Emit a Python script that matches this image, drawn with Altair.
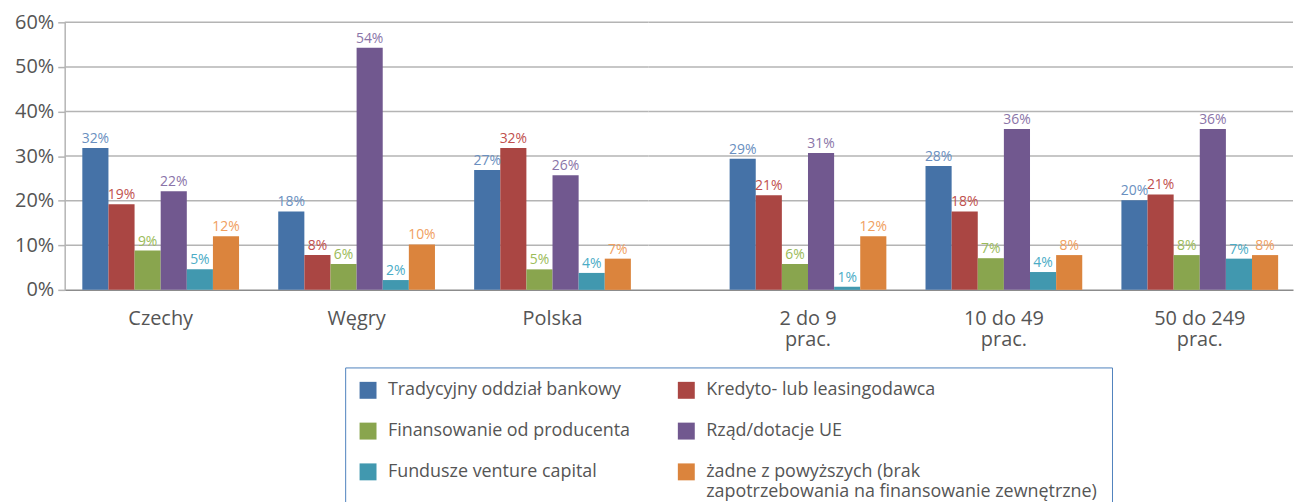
import altair as alt
import pandas as pd

FONT = "Open Sans"

series = [
    "Tradycyjny oddział bankowy",
    "Kredyto- lub leasingodawca",
    "Finansowanie od producenta",
    "Rząd/dotacje UE",
    "Fundusze venture capital",
    "żadne z powyższych (brak zapotrzebowania na finansowanie zewnętrzne)",
]
bar_colors = ["#4572a7", "#aa4643", "#89a54e", "#71588f", "#4198af", "#db843d"]
label_colors = ["#6a8fc0", "#c0504d", "#9bbb59", "#8a74a8", "#4bacc6", "#f0a060"]

groups_left = ["Czechy", "Węgry", "Polska"]
groups_right = ["2 do 9 prac.", "10 do 49 prac.", "50 do 249 prac."]

# values in percent, one list per group (series order as above)
czechy = [31.8, 19.2, 8.8, 22.1, 4.6, 12.0]
wegry = [17.6, 7.8, 5.8, 54.3, 2.2, 10.2]
polska = [26.9, 31.8, 4.6, 25.7, 3.8, 7.0]
m2_9 = [29.4, 21.2, 5.8, 30.7, 0.7, 12.0]
m10_49 = [27.8, 17.6, 7.1, 36.1, 4.0, 7.8]
m50_249 = [20.1, 21.4, 7.8, 36.1, 7.0, 7.8]

y_ticks = [0, 10, 20, 30, 40, 50, 60]


def frame(groups, values):
    rows = []
    for g, vals in zip(groups, values):
        for s, v in zip(series, vals):
            rows.append({"group": g, "series": s, "value": v})
    return pd.DataFrame(rows)


df_left = frame(groups_left, [czechy, wegry, polska])
df_right = frame(groups_right, [m2_9, m10_49, m50_249])
df_grid = pd.DataFrame({"tick": y_ticks[1:]})

legend = alt.Legend(
    orient="none",
    legendX=282,
    legendY=347,
    direction="horizontal",
    columns=2,
    title=None,
    symbolType="square",
    symbolSize=290,
    symbolStrokeWidth=0,
    labelFont=FONT,
    labelFontSize=18,
    labelColor="#555555",
    labelLimit=600,
    labelOffset=11,
    columnPadding=47,
    rowPadding=23,
    padding=14,
    strokeColor="#4f81bd",
    labelExpr="indexof(datum.label, 'żadne') == 0 ? ['żadne z powyższych (brak', 'zapotrzebowania na finansowanie zewnętrzne)'] : datum.label",
)

color_scale = alt.Scale(domain=series, range=bar_colors)
fill_scale = alt.Scale(domain=series, range=label_colors)
y_scale = alt.Scale(domain=[0, 60], nice=False)

GRID = "#b4b4b4"


def panel(df, groups, width, pad_outer, align, left_axis):
    if left_axis:
        yaxis = alt.Axis(
            values=y_ticks,
            labelExpr="datum.value + '%'",
            title=None,
            grid=False,
            domain=True,
            domainColor=GRID,
            domainWidth=1.5,
            ticks=True,
            tickColor=GRID,
            tickSize=7,
            tickWidth=1.5,
            labelFont=FONT,
            labelFontSize=20,
            labelColor="#555555",
            labelPadding=4,
        )
    else:
        yaxis = None
    x = alt.X(
        "group:N",
        sort=groups,
        scale=alt.Scale(paddingInner=0.2, paddingOuter=pad_outer, align=align),
        axis=alt.Axis(
            title=None,
            labelAngle=0,
            ticks=False,
            grid=False,
            domain=True,
            domainColor="#8c8c8c",
            domainWidth=1.5,
            labelFont=FONT,
            labelFontSize=20,
            labelColor="#555555",
            labelPadding=19,
            labelLineHeight=21,
            labelExpr="indexof(datum.label, ' prac.') > 0 ? [replace(datum.label, ' prac.', ''), 'prac.'] : datum.label",
        ),
    )
    grid = alt.Chart(df_grid).mark_rule(color=GRID, strokeWidth=1.5).encode(
        y=alt.Y("tick:Q", scale=y_scale, axis=yaxis)
    )
    xo = alt.XOffset("series:N", sort=series, scale=alt.Scale(domain=series, paddingInner=0, paddingOuter=0))
    base = alt.Chart(df).encode(x=x, xOffset=xo)
    bars = base.mark_bar().encode(
        y=alt.Y("value:Q", scale=y_scale, axis=yaxis),
        color=alt.Color("series:N", scale=color_scale, legend=legend),
    )
    text = base.mark_text(dy=-9, fontSize=14, font=FONT).transform_calculate(
        lbl="format(datum.value, '.0f') + '%'"
    ).encode(
        y=alt.Y("value:Q", scale=y_scale, axis=yaxis),
        text="lbl:N",
        fill=alt.Fill("series:N", scale=fill_scale, legend=None),
    )
    return alt.layer(grid, bars, text).properties(width=width, height=269)


left = panel(df_left, groups_left, 587, 0.09, 0.5, True)
right = panel(df_right, groups_right, 648, 0.245, 0.845, False)

chart = (
    alt.hconcat(left, right, spacing=0, bounds="flush")
    .properties(padding={"left": 6, "top": 3, "right": 0, "bottom": 5})
    .configure_view(strokeWidth=0, stroke="transparent")
)

chart.save("out.html", embed_options={"renderer": "svg", "actions": False})
